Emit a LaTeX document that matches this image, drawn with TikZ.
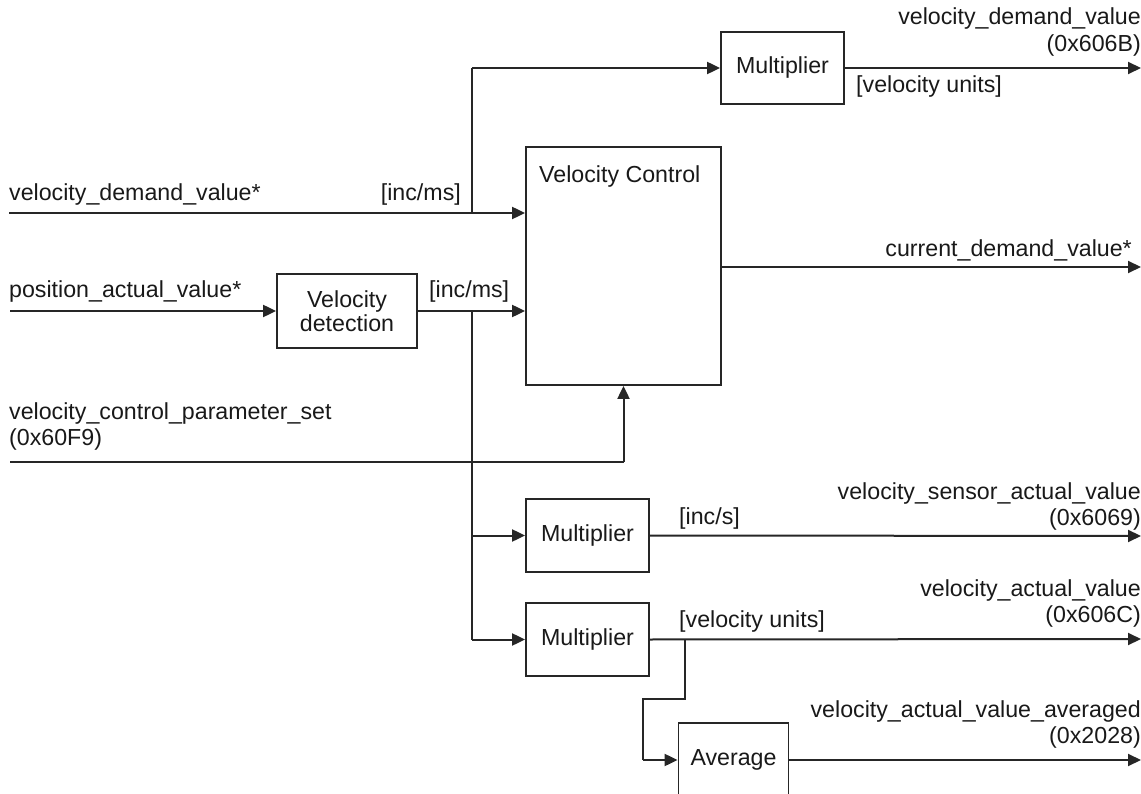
\documentclass[tikz,border=0pt]{standalone}
\usepackage{fontspec}
\setmainfont{Liberation Sans}
\usetikzlibrary{arrows.meta}
\begin{document}
\begin{tikzpicture}[x=1pt,y=-1pt,
  every node/.style={font=\fontsize{23.2}{24}\selectfont, text=black!90},
  blk/.style={draw=black!85, line width=1.8pt, inner sep=0pt, fill=white},
  wire/.style={draw=black!85, line width=2pt},
  arr/.style={wire, -{Triangle[length=13pt,width=12pt]}},
  lab/.style={inner sep=0pt}
]
\useasboundingbox (0,0) rectangle (1141,794);
\clip (0,0) rectangle (1141,794);

% blocks
\node[blk, minimum width=123pt, minimum height=72pt] (mulT) at (782.5,68) {Multiplier};
\node[blk, minimum width=195pt, minimum height=238pt] (vc) at (623.5,266) {};
\node[lab, anchor=base west] (vctext) at (539,183) {Velocity Control};
\node[blk, minimum width=140pt, minimum height=74pt, align=center] (vd) at (347,311) {Velocity\\detection};
\node[blk, minimum width=123pt, minimum height=73pt] (mulM) at (587.5,535.5) {Multiplier};
\node[blk, minimum width=123pt, minimum height=73pt] (mulB) at (587.5,639.5) {Multiplier};
\node[blk, minimum width=110pt, minimum height=74pt] (avg) at (733.5,760) {Average};

% free ends
\coordinate (in1) at (9,213);
\coordinate (in2) at (10,311);
\coordinate (in3) at (10,462);
\coordinate (j1) at (472,213);
\coordinate (j2) at (472,311);
\coordinate (o1) at (1141,68);
\coordinate (o2) at (1141,267);
\coordinate (o3) at (1141,536);
\coordinate (o4) at (1141,639);
\coordinate (o5) at (1141,760);
\coordinate (b1) at (685,639);
\coordinate (b2) at (685,699);
\coordinate (b3) at (643,699);

% connectors
\draw[arr] (in1) -- (in1 -| vc.west);
\draw[wire] (j1) -- (j1 |- mulT.west);
\draw[arr] (j1 |- mulT.west) -- (mulT.west);
\draw[arr] (in2) -- (vd.west);
\draw[arr] (vd.east) -- (vd.east -| vc.west);
\draw[wire] (j2) -- (j2 |- mulB.west);
\draw[arr] (j2 |- mulM.west) -- (mulM.west);
\draw[arr] (j2 |- mulB.west) -- (mulB.west);
\draw[wire] (in3) -- (in3 -| vc.south);
\draw[arr] (in3 -| vc.south) -- (vc.south);
\draw[arr] (mulT.east) -- (o1);
\draw[arr] (vc.east |- o2) -- (o2);
\draw[arr] (mulM.east) -- (o3);
\draw[arr] (mulB.east) -- (o4);
\draw[wire] (b1) -- (b2) -- (b3) -- (b3 |- avg.west);
\draw[arr] (b3 |- avg.west) -- (avg.west);
\draw[arr] (avg.east) -- (o5);

% labels
\node[lab, anchor=base east] (t1a) at (1141,25) {velocity\_demand\_value};
\node[lab, anchor=base east] (t1b) at (1141,52) {(0x606B)};
\node[lab, anchor=base west] (t1c) at (856,93) {[velocity units]};
\node[lab, anchor=base west] (t2) at (9,201) {velocity\_demand\_value*};
\node[lab, anchor=base east] (t2u) at (461,201) {[inc/ms]};
\node[lab, anchor=base west] (t3) at (9,298) {position\_actual\_value*};
\node[lab, anchor=base west] (t3u) at (429,298) {[inc/ms]};
\node[lab, anchor=base east] (t4) at (1132,257) {current\_demand\_value*};
\node[lab, anchor=base west] (t5a) at (9,419) {velocity\_control\_parameter\_set};
\node[lab, anchor=base west] (t5b) at (9,445) {(0x60F9)};
\node[lab, anchor=base east] (t6a) at (1141,499) {velocity\_sensor\_actual\_value};
\node[lab, anchor=base east] (t6b) at (1141,525) {(0x6069)};
\node[lab, anchor=base west] (t6u) at (679,524) {[inc/s]};
\node[lab, anchor=base east] (t7a) at (1141,596) {velocity\_actual\_value};
\node[lab, anchor=base east] (t7b) at (1141,622) {(0x606C)};
\node[lab, anchor=base west] (t7u) at (679,627) {[velocity units]};
\node[lab, anchor=base east] (t8a) at (1141,717) {velocity\_actual\_value\_averaged};
\node[lab, anchor=base east] (t8b) at (1141,743) {(0x2028)};
\end{tikzpicture}
\end{document}
